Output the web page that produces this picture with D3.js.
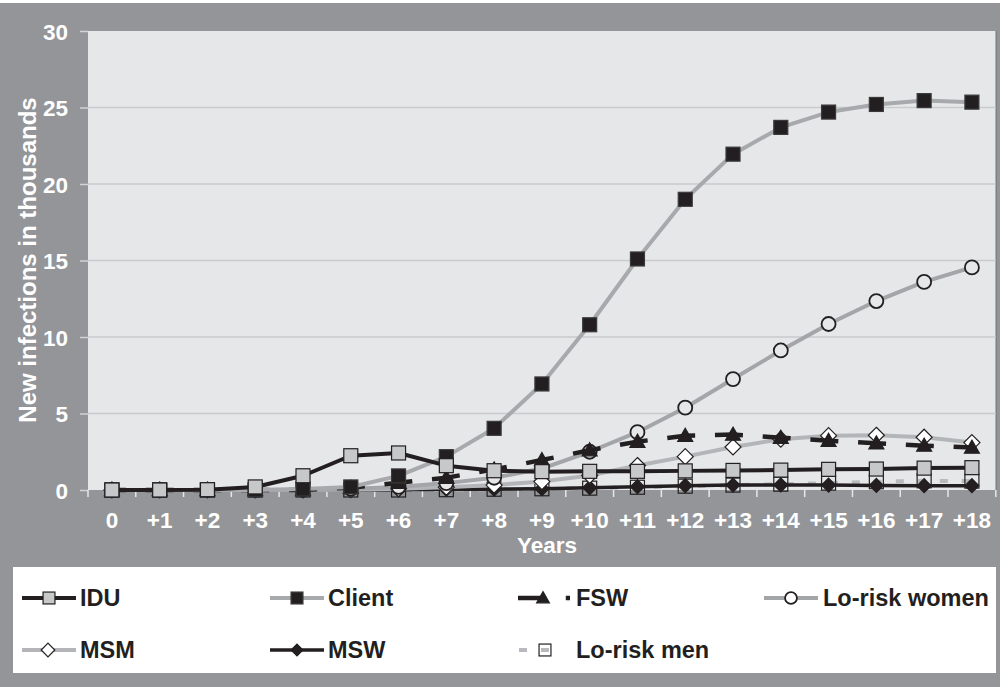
<!DOCTYPE html>
<html>
<head>
<meta charset="utf-8">
<script src="https://cdn.jsdelivr.net/npm/d3@7"></script>
<style>
  html, body { margin: 0; padding: 0; background: #939598; }
  svg { display: block; }
  text { font-family: "Liberation Sans", Arial, sans-serif; font-weight: bold; }
</style>
</head>
<body>
<svg id="chart" width="1000" height="687"></svg>
<script>
// ---------- data ----------
const years = ["0","+1","+2","+3","+4","+5","+6","+7","+8","+9","+10","+11","+12","+13","+14","+15","+16","+17","+18"];
const yTicks = [0, 5, 10, 15, 20, 25, 30];

const idu        = [0, 0, 0.02, 0.2, 0.93, 2.24, 2.42, 1.59, 1.26, 1.2, 1.22, 1.22, 1.25, 1.28, 1.3, 1.35, 1.37, 1.43, 1.46];
const client     = [0, 0, 0, 0, 0.07, 0.2, 0.92, 2.18, 4.03, 6.93, 10.8, 15.1, 19.0, 21.95, 23.7, 24.7, 25.2, 25.45, 25.35];
const fsw        = [0, 0, 0, 0, 0, 0.15, 0.48, 0.8, 1.35, 1.96, 2.6, 3.16, 3.55, 3.62, 3.42, 3.22, 3.05, 2.9, 2.77];
const loWomen    = [0, 0, 0, 0, 0.02, 0.08, 0.2, 0.45, 0.8, 1.4, 2.5, 3.78, 5.38, 7.25, 9.12, 10.85, 12.35, 13.6, 14.55];
const msm        = [0, 0, 0, 0, 0, 0.02, 0.08, 0.18, 0.32, 0.55, 0.95, 1.6, 2.18, 2.81, 3.32, 3.55, 3.58, 3.45, 3.1];
const msw        = [0, 0, 0, 0, 0, 0, 0.02, 0.05, 0.05, 0.08, 0.15, 0.22, 0.28, 0.32, 0.33, 0.32, 0.3, 0.28, 0.28];
const loMen      = [0, 0, 0, 0, 0, 0, 0, 0.02, 0.05, 0.08, 0.12, 0.18, 0.25, 0.32, 0.38, 0.45, 0.54, 0.6, 0.58];

const seriesNames = ["IDU", "Client", "FSW", "Lo-risk women", "MSM", "MSW", "Lo-risk men"];

// ---------- styles ----------
const BLACK = "#231f20", LGRAY = "#a7a9ac";
const styles = {
  "IDU":           {values: idu,     line: BLACK,     width: 4,   dash: null,     marker: "square",   fill: "#c7c8ca", stroke: BLACK, size: 14},
  "Client":        {values: client,  line: LGRAY,     width: 4,   dash: null,     marker: "square",   fill: BLACK,     stroke: "#3a3a3a", size: 14},
  "FSW":           {values: fsw,     line: BLACK,     width: 4.5, dash: "28,19.8", marker: "triangle", fill: BLACK,   stroke: BLACK, size: 15},
  "Lo-risk women": {values: loWomen, line: "#a3a5a8", width: 4,   dash: null,     marker: "circle",   fill: "#e6e7e8", stroke: BLACK, size: 14},
  "MSM":           {values: msm,     line: "#b3b5b8", width: 4,   dash: null,     marker: "diamond",  fill: "#ffffff", stroke: BLACK, size: 16},
  "MSW":           {values: msw,     line: BLACK,     width: 3.5, dash: null,     marker: "diamond",  fill: BLACK,     stroke: BLACK, size: 14},
  "Lo-risk men":   {values: loMen,   line: "#b7b9bc", width: 4,   dash: "8,14",   marker: "square",   fill: "none",    stroke: BLACK, size: 14}
};

// ---------- layout ----------
const svg = d3.select("#chart");
const W = 1000, H = 687;
const plot = {left: 88, right: 995.8, top: 31, bottom: 490};

svg.append("rect").attr("x", 0).attr("y", 0).attr("width", W).attr("height", H).attr("fill", "#939598");
svg.append("rect").attr("x", 0).attr("y", 0).attr("width", W).attr("height", 3).attr("fill", "#ffffff");

const x = d3.scaleBand().domain(years).range([plot.left, plot.right]).padding(0);
const y = d3.scaleLinear().domain([0, 30]).range([plot.bottom, plot.top]);
const cx = d => x(d) + x.bandwidth() / 2;

// plot area
svg.append("rect").attr("x", plot.left).attr("y", plot.top)
  .attr("width", plot.right - plot.left).attr("height", plot.bottom - plot.top)
  .attr("fill", "#e6e7e8");
svg.append("line").attr("x1", plot.right + 0.5).attr("x2", plot.right + 0.5)
  .attr("y1", plot.top).attr("y2", plot.bottom).attr("stroke", "#808285").attr("stroke-width", 1.5);

// gridlines
svg.append("g").selectAll("line").data(yTicks.filter(t => t > 0 && t < 30)).join("line")
  .attr("x1", plot.left).attr("x2", plot.right)
  .attr("y1", d => y(d)).attr("y2", d => y(d))
  .attr("stroke", "#c9cacc").attr("stroke-width", 1.5);

// y axis
const yAxis = svg.append("g").attr("transform", `translate(${plot.left},0)`)
  .call(d3.axisLeft(y).tickValues(yTicks).tickSize(8).tickPadding(12).tickFormat(d3.format("d")));
yAxis.select(".domain").remove();
yAxis.selectAll(".tick line").attr("stroke", "#d1d3d4").attr("stroke-width", 1.5);
yAxis.selectAll(".tick text").attr("fill", "#ffffff").attr("font-size", 22.5)
  .attr("font-family", "Liberation Sans, Arial, sans-serif").attr("font-weight", "bold").attr("dy", "0.36em");

// x axis
const xAxis = svg.append("g").attr("transform", `translate(0,${plot.bottom})`)
  .call(d3.axisBottom(x).tickSize(0).tickPadding(22));
xAxis.select(".domain").remove();
xAxis.selectAll(".tick text").attr("fill", "#ffffff").attr("font-size", 22.5)
  .attr("font-family", "Liberation Sans, Arial, sans-serif").attr("font-weight", "bold").attr("dy", "0.71em");
// boundary tick marks
const bounds = years.map(d => x(d)).concat([plot.right]);
svg.append("g").selectAll("line").data(bounds).join("line")
  .attr("x1", d => d).attr("x2", d => d).attr("y1", plot.bottom).attr("y2", plot.bottom + 7)
  .attr("stroke", "#e6e7e8").attr("stroke-width", 1.5);

// axis titles
svg.append("text").attr("x", 547).attr("y", 553)
  .attr("text-anchor", "middle").attr("fill", "#fff").attr("font-size", 22.5).text("Years");
svg.append("text").attr("transform", "translate(36,260) rotate(-90)")
  .attr("text-anchor", "middle").attr("fill", "#fff").attr("font-size", 24).text("New infections in thousands");

// ---------- markers ----------
function drawMarker(g, type, px, py, st) {
  const s = st.size;
  let el;
  if (type === "square") {
    el = g.append("rect").attr("x", px - s / 2).attr("y", py - s / 2).attr("width", s).attr("height", s);
  } else if (type === "circle") {
    el = g.append("circle").attr("cx", px).attr("cy", py).attr("r", s / 2);
  } else if (type === "diamond") {
    const h = s / 2;
    el = g.append("path").attr("d", `M${px},${py - h}L${px + h},${py}L${px},${py + h}L${px - h},${py}Z`);
  } else if (type === "triangle") {
    const h = s / 2;
    el = g.append("path").attr("d", `M${px},${py - h}L${px + h},${py + h * 0.75}L${px - h},${py + h * 0.75}Z`);
  }
  el.attr("fill", st.fill).attr("stroke", st.stroke).attr("stroke-width", type === "circle" ? 1.8 : 1.2);
}

const line = d3.line().x((d, i) => cx(years[i])).y(d => y(d));

// draw series (reverse order so IDU on top)
const drawOrder = seriesNames.slice().reverse();
const gSeries = svg.append("g");
drawOrder.forEach(name => {
  const st = styles[name];
  const g = gSeries.append("g");
  const p = g.append("path").datum(st.values).attr("d", line)
    .attr("fill", "none").attr("stroke", st.line).attr("stroke-width", st.width).attr("stroke-linejoin", "round");
  if (st.dash) {
    p.attr("stroke-dasharray", st.dash);
    if (name === "FSW") p.attr("stroke-dashoffset", 14);
    if (name === "Lo-risk men") p.attr("stroke-dashoffset", -14);
  }
  st.values.forEach((v, i) => drawMarker(g, st.marker, cx(years[i]), y(v), st));
});

// ---------- legend ----------
svg.append("rect").attr("x", 13).attr("y", 567).attr("width", 983).attr("height", 106).attr("fill", "#ffffff");
const legendPos = {
  "IDU":           {x0: 22,  x1: 76,  mx: 49,  tx: 80,  y: 598},
  "Client":        {x0: 270, x1: 324, mx: 297, tx: 328, y: 598},
  "FSW":           {x0: 518, x1: 570, mx: 543, tx: 576, y: 598},
  "Lo-risk women": {x0: 764, x1: 818, mx: 791, tx: 823, y: 598},
  "MSM":           {x0: 22,  x1: 76,  mx: 48,  tx: 80,  y: 650},
  "MSW":           {x0: 270, x1: 324, mx: 297, tx: 328, y: 650},
  "Lo-risk men":   {x0: 519, x1: 551, mx: 545, tx: 576, y: 650}
};
const gLeg = svg.append("g");
seriesNames.forEach(name => {
  const st = styles[name], lp = legendPos[name];
  const g = gLeg.append("g");
  const l = g.append("line").attr("x1", lp.x0).attr("x2", lp.x1).attr("y1", lp.y).attr("y2", lp.y)
    .attr("stroke", st.line).attr("stroke-width", st.width);
  if (st.dash) l.attr("stroke-dasharray", st.dash);
  const ms = Object.assign({}, st, {size: st.size * 0.85, fill: name === "Lo-risk women" ? "#ffffff" : st.fill});
  drawMarker(g, st.marker, lp.mx, lp.y, ms);
  g.append("text").attr("x", lp.tx).attr("y", lp.y).attr("dy", "0.36em")
    .attr("fill", BLACK).attr("font-size", 23.5).text(name);
});
</script>
</body>
</html>
